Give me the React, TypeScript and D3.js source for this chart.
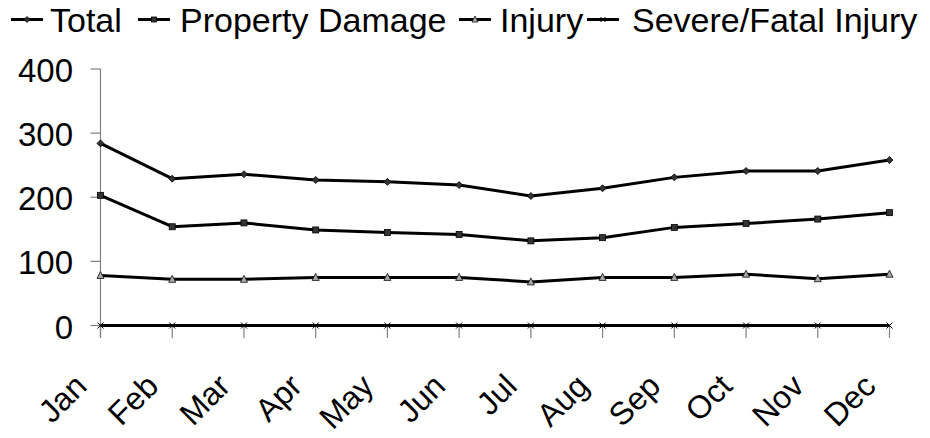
import React from "react";
import * as d3 from "d3";

const months = ["Jan", "Feb", "Mar", "Apr", "May", "Jun", "Jul", "Aug", "Sep", "Oct", "Nov", "Dec"];
const seriesNames = ["Total", "Property Damage", "Injury", "Severe/Fatal Injury"];
const totalValues = [284, 229, 236, 227, 224, 219, 202, 214, 231, 241, 241, 258];
const propertyValues = [203, 154, 160, 149, 145, 142, 132, 137, 153, 159, 166, 176];
const injuryValues = [78, 72, 72, 75, 75, 75, 68, 75, 75, 80, 73, 80];
const severeValues = [0, 0, 0, 0, 0, 0, 0, 0, 0, 0, 0, 0];
const yTicks = [0, 100, 200, 300, 400];

const W = 930;
const H = 438;
const FONT = "'Liberation Sans', Arial, Helvetica, sans-serif";

type MarkerKind = "diamond" | "square" | "triangle" | "x";

function Marker({ kind, x, y, s }: { kind: MarkerKind; x: number; y: number; s: number }) {
  const h = s / 2;
  if (kind === "diamond") {
    return <path d={`M${x},${y - h - 0.5}L${x + h + 0.5},${y}L${x},${y + h + 0.5}L${x - h - 0.5},${y}Z`} fill="#333" stroke="#000" strokeWidth={0.8} />;
  }
  if (kind === "square") {
    return <rect x={x - h} y={y - h} width={s} height={s} fill="#333" stroke="#000" strokeWidth={0.8} />;
  }
  if (kind === "triangle") {
    return <path d={`M${x},${y - h - 1}L${x + h + 0.5},${y + h}L${x - h - 0.5},${y + h}Z`} fill="#aaa" stroke="#222" strokeWidth={0.9} />;
  }
  return (
    <path d={`M${x - h},${y - h}L${x + h},${y + h}M${x + h},${y - h}L${x - h},${y + h}`} stroke="#000" strokeWidth={1} />
  );
}

export default function App() {
  const x = d3.scalePoint<string>().domain(months).range([100.5, 889.5]);
  const y = d3.scaleLinear().domain([0, 400]).range([325.5, 69]);
  const line = d3
    .line<number>()
    .x((_, i) => x(months[i]) as number)
    .y((d) => y(d));

  const series: { name: string; values: number[]; kind: MarkerKind }[] = [
    { name: seriesNames[0], values: totalValues, kind: "diamond" },
    { name: seriesNames[1], values: propertyValues, kind: "square" },
    { name: seriesNames[2], values: injuryValues, kind: "triangle" },
    { name: seriesNames[3], values: severeValues, kind: "x" },
  ];

  const legendSeg = [11, 138, 459, 587];
  const legendText = [50, 180, 500, 632];
  const legendY = 19.5;

  const axisColor = "#808080";
  const y0 = y(0);

  return (
    <svg width={W} height={H} style={{ display: "block", position: "absolute", left: 0, top: 0, background: "#fff" }} fontFamily={FONT}>
      <rect x={0} y={0} width={W} height={H} fill="#fff" />
      {/* Legend */}
      {series.map((s, i) => (
        <g key={s.name}>
          <line x1={legendSeg[i]} x2={legendSeg[i] + 32} y1={legendY} y2={legendY} stroke="#000" strokeWidth={3} />
          <Marker kind={s.kind} x={legendSeg[i] + 16} y={legendY} s={5} />
          <text x={legendText[i]} y={legendY + 12} fontSize={34} fill="#000">
            {s.name}
          </text>
        </g>
      ))}
      {/* Y axis */}
      <line x1={x(months[0])} x2={x(months[0])} y1={y(400)} y2={y0 + 12.5} stroke={axisColor} strokeWidth={1.2} />
      {yTicks.map((t) => (
        <g key={t}>
          <line x1={(x(months[0]) as number) - 10} x2={x(months[0])} y1={y(t)} y2={y(t)} stroke={axisColor} strokeWidth={1.2} />
          <text x={73} y={y(t) + 13} fontSize={33} textAnchor="end" fill="#000">
            {t}
          </text>
        </g>
      ))}
      {/* X axis */}
      <line x1={x(months[0])} x2={x(months[11])} y1={y0} y2={y0} stroke={axisColor} strokeWidth={1.2} />
      {months.map((m) => (
        <g key={m}>
          <line x1={x(m)} x2={x(m)} y1={y0} y2={y0 + 12.5} stroke={axisColor} strokeWidth={1.2} />
          <text
            transform={`translate(${(x(m) as number) - 12},388) rotate(-45)`}
            fontSize={32}
            textAnchor="end"
            fill="#000"
          >
            {m}
          </text>
        </g>
      ))}
      {/* Series */}
      {series.map((s) => (
        <g key={s.name}>
          <path d={line(s.values) || ""} fill="none" stroke="#000" strokeWidth={3} strokeLinejoin="round" />
          {s.values.map((v, i) => (
            <Marker key={i} kind={s.kind} x={x(months[i]) as number} y={y(v)} s={6} />
          ))}
        </g>
      ))}
    </svg>
  );
}
